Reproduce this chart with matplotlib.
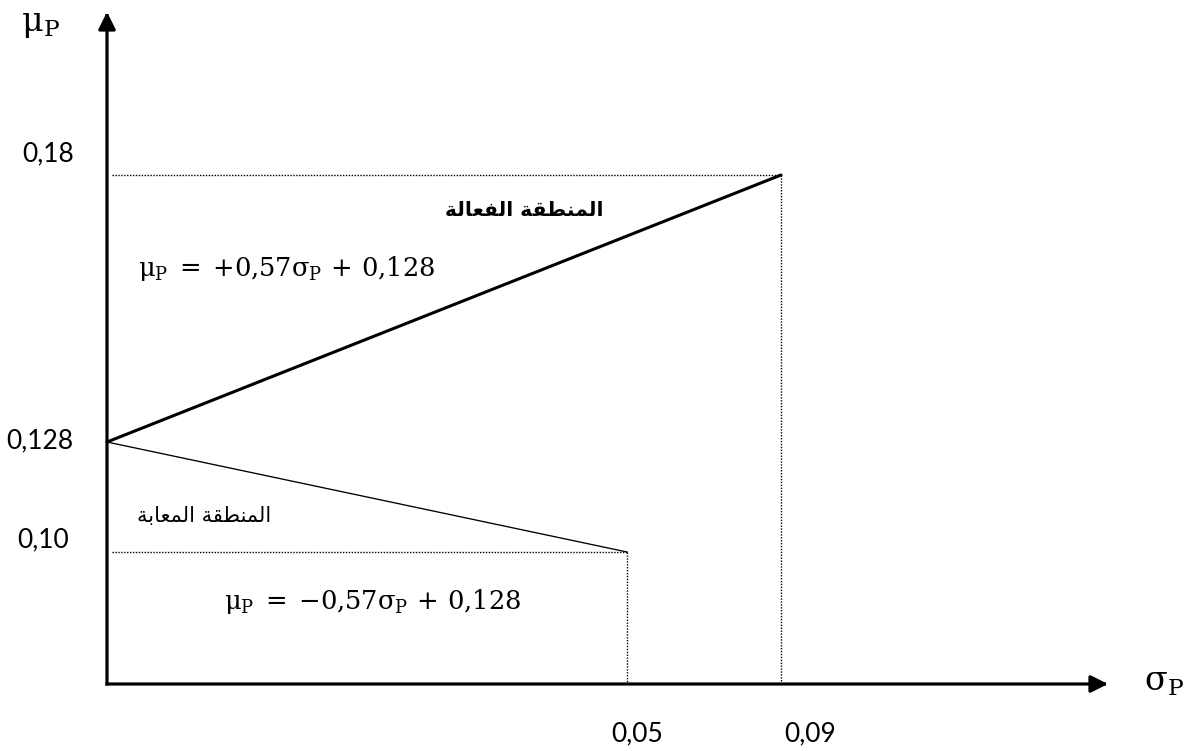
import numpy as np
import matplotlib
matplotlib.use("Agg")
import matplotlib.pyplot as plt
from matplotlib.scale import FuncScale

# ---- data -------------------------------------------------------------
sigma_ticks = [0.05, 0.09]
sigma_tick_labels = ["0,05", "0,09"]
mu_ticks = [0.10, 0.128, 0.18]
mu_tick_labels = ["0,10", "0,128", "0,18"]

efficient_sigma = [0.0, 0.09]
efficient_mu = [0.128, 0.18]
inefficient_sigma = [0.0, 0.05]
inefficient_mu = [0.128, 0.10]

eq_efficient = r"$\mathrm{μ_P}\;=\;{+}0{,}57\mathrm{σ_P}\,+\,0{,}128$"
eq_inefficient = r"$\mathrm{μ_P}\;=\;{-}0{,}57\mathrm{σ_P}\,+\,0{,}128$"
label_efficient = "المنطقة الفعالة"
label_inefficient = "المنطقة المعابة"
x_label = r"$\mathrm{σ_P}$"
y_label = r"$\mathrm{μ_P}$"

# ---- figure -----------------------------------------------------------
W, H, DPI = 1190, 751, 100
plt.rcParams["mathtext.fontset"] = "custom"
plt.rcParams["mathtext.rm"] = "DejaVu Serif"
plt.rcParams["mathtext.it"] = "DejaVu Serif:italic"

fig = plt.figure(figsize=(W / DPI, H / DPI), dpi=DPI)
ox, oy = 107, 684          # origin in pixels (from top-left)
ax_w, ax_h = 1001, 672
ax = fig.add_axes([ox / W, (H - oy) / H, ax_w / W, ax_h / H])
ax.set_facecolor("none")


def piecewise(xp, fp):
    """Piecewise-linear, monotonic mapping with linear extrapolation."""
    xp = np.asarray(xp, float)
    fp = np.asarray(fp, float)

    def make(a, b):
        def f(v):
            v = np.asarray(v, float)
            out = np.interp(v, a, b)
            lo_s = (b[1] - b[0]) / (a[1] - a[0])
            hi_s = (b[-1] - b[-2]) / (a[-1] - a[-2])
            out = np.where(v < a[0], b[0] + (v - a[0]) * lo_s, out)
            out = np.where(v > a[-1], b[-1] + (v - a[-1]) * hi_s, out)
            return out
        return f

    return make(xp, fp), make(fp, xp)


# schematic (non-proportional) spacing of the axes
x_fwd, x_inv = piecewise([0.0, 0.05, 0.09, 0.12], [0, 520, 674, 1001])
y_fwd, y_inv = piecewise([0.0, 0.10, 0.128, 0.18, 0.25], [0, 132, 242, 509, 672])
ax.set_xscale(FuncScale(ax.xaxis, (x_fwd, x_inv)))
ax.set_yscale(FuncScale(ax.yaxis, (y_fwd, y_inv)))
ax.set_xlim(0, 0.12)
ax.set_ylim(0, 0.25)
for s in ax.spines.values():
    s.set_visible(False)
ax.set_xticks([])
ax.set_yticks([])
ax.minorticks_off()

# axes with arrow heads
arrow_kw = dict(arrowstyle="-|>", lw=2.3, color="black", mutation_scale=26,
                shrinkA=0, shrinkB=0, capstyle="projecting")
ax.annotate("", xy=(1, 0), xytext=(0, 0), xycoords="axes fraction",
            arrowprops=arrow_kw, annotation_clip=False)
ax.annotate("", xy=(0, 1), xytext=(0, 0), xycoords="axes fraction",
            arrowprops=arrow_kw, annotation_clip=False)

# frontier lines
ax.plot(efficient_sigma, efficient_mu, color="black", lw=2.2,
        solid_capstyle="round", clip_on=False)
ax.plot(inefficient_sigma, inefficient_mu, color="black", lw=0.95, clip_on=False)

# dotted guides
dot = dict(color="black", lw=1.0, linestyle=(0, (1.0, 1.1)), clip_on=False)
x0 = 0.0005
ax.plot([x0, efficient_sigma[1]], [efficient_mu[1], efficient_mu[1]], **dot)
ax.plot([efficient_sigma[1], efficient_sigma[1]], [efficient_mu[1], 0.0015], **dot)
ax.plot([x0, inefficient_sigma[1]], [inefficient_mu[1], inefficient_mu[1]], **dot)
ax.plot([inefficient_sigma[1], inefficient_sigma[1]], [inefficient_mu[1], 0.0015], **dot)

# tick labels
tick_font = dict(family="Lato", fontsize=19, color="black",
                 ha="center", va="center", annotation_clip=False)
mu_offsets = [(-64, 12), (-67, 1), (-59, 21)]
for v, lab, off in zip(mu_ticks, mu_tick_labels, mu_offsets):
    ax.annotate(lab, xy=(0, v), xytext=off, textcoords="offset pixels", **tick_font)
sigma_offsets = [(10, -50), (29, -50)]
for v, lab, off in zip(sigma_ticks, sigma_tick_labels, sigma_offsets):
    ax.annotate(lab, xy=(v, 0), xytext=off, textcoords="offset pixels", **tick_font)


# Arabic shaping (contextual forms + right-to-left order)
FORMS = {
    "ا": ("\ufe8d", "\ufe8e", None, None),
    "ب": ("\ufe8f", "\ufe90", "\ufe91", "\ufe92"),
    "ة": ("\ufe93", "\ufe94", None, None),
    "ط": ("\ufec1", "\ufec2", "\ufec3", "\ufec4"),
    "ع": ("\ufec9", "\ufeca", "\ufecb", "\ufecc"),
    "ف": ("\ufed1", "\ufed2", "\ufed3", "\ufed4"),
    "ق": ("\ufed5", "\ufed6", "\ufed7", "\ufed8"),
    "ل": ("\ufedd", "\ufede", "\ufedf", "\ufee0"),
    "م": ("\ufee1", "\ufee2", "\ufee3", "\ufee4"),
    "ن": ("\ufee5", "\ufee6", "\ufee7", "\ufee8"),
}


def shape_arabic(text):
    out = []
    for i, ch in enumerate(text):
        if ch not in FORMS:
            out.append(ch)
            continue
        prev = text[i - 1] if i > 0 else ""
        nxt = text[i + 1] if i + 1 < len(text) else ""
        joins_prev = prev in FORMS and FORMS[prev][2] is not None
        joins_next = nxt in FORMS and FORMS[ch][2] is not None
        iso, fin, ini, med = FORMS[ch]
        if joins_prev and joins_next:
            out.append(med)
        elif joins_prev:
            out.append(fin)
        elif joins_next:
            out.append(ini)
        else:
            out.append(iso)
    return "".join(reversed(out))


def fig_text(px, py, s, **kw):
    fig.text(px / W, 1 - py / H, s, ha="center", va="center", **kw)


fig_text(524, 211, shape_arabic(label_efficient), family="DejaVu Sans",
         fontweight="bold", fontsize=14.5)
fig_text(204, 516, shape_arabic(label_inefficient), family="DejaVu Sans",
         fontsize=15)

fig_text(287, 269, eq_efficient, fontsize=18.5)
fig_text(373, 601, eq_inefficient, fontsize=18.5)

fig_text(40, 24, y_label, fontsize=24)
fig_text(1164, 682, x_label, fontsize=24)

fig.savefig("out.png", dpi=DPI, facecolor="white")
